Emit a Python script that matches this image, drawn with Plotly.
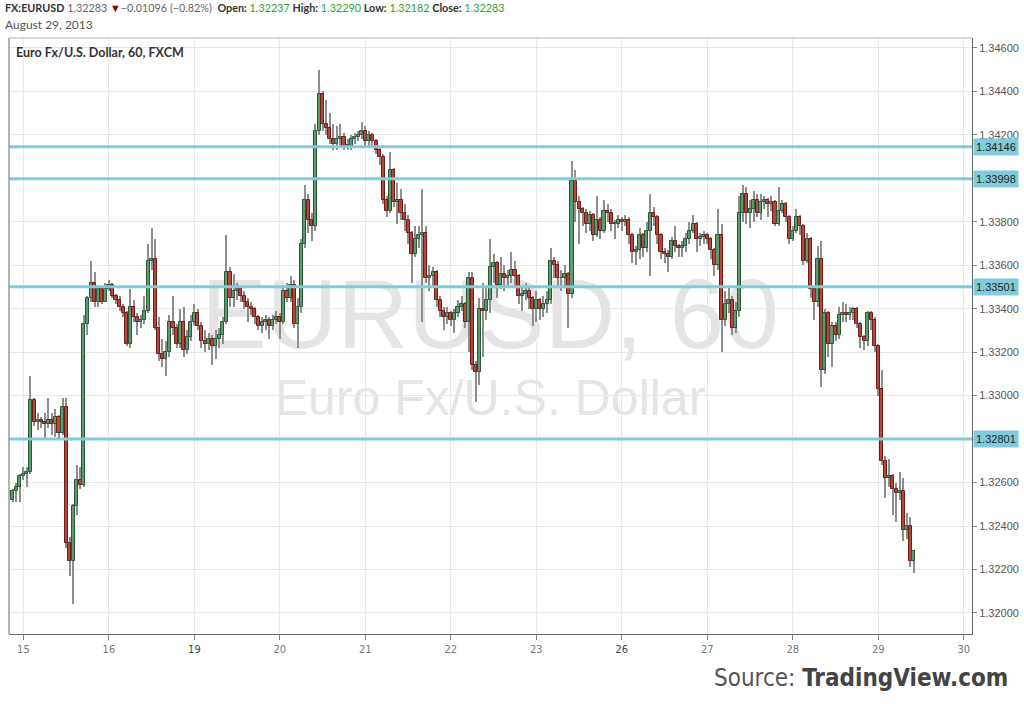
import plotly.graph_objects as go

# ---------------- data ----------------
SYMBOL = "FX:EURUSD"
LAST = "1.32283"
CHANGE = "\u22120.01096"
CHANGE_PCT = "(\u22120.82%)"
HDR_OPEN, HDR_HIGH, HDR_LOW, HDR_CLOSE = "1.32237", "1.32290", "1.32182", "1.32283"
DATE_TEXT = "August 29, 2013"
CHART_TITLE = "Euro Fx/U.S. Dollar, 60, FXCM"
WATERMARK_1 = "EURUSD, 60"
WATERMARK_2 = "Euro Fx/U.S. Dollar"

day_labels = ["15", "16", "19", "20", "21", "22", "23", "26", "27", "28", "29", "30"]
week_start_labels = ["19", "26"]
BARS_BEFORE_FIRST_DAY = 3
BARS_PER_DAY = 24

price_ticks = [1.320, 1.322, 1.324, 1.326, 1.328, 1.330, 1.332, 1.334,
               1.336, 1.338, 1.340, 1.342, 1.344, 1.346]
levels = [1.34146, 1.33998, 1.33501, 1.32801]
level_labels = ["1.34146", "1.33998", "1.33501", "1.32801"]

FIRST_OPEN = 1.3252
closes = [
    1.3256, 1.3258, 1.3263, 1.3264, 1.3265, 1.3298, 1.3288, 1.3289, 1.3288, 1.3287,
    1.3289, 1.3287, 1.3290, 1.3283, 1.3295, 1.3232, 1.3224, 1.3249, 1.3261, 1.3259,
    1.3333, 1.3345, 1.3352, 1.3343, 1.3349, 1.3343, 1.3349, 1.3351, 1.3346, 1.3344,
    1.3341, 1.3338, 1.3324, 1.3341, 1.3336, 1.3334, 1.3335, 1.3339, 1.3362, 1.3363,
    1.3331, 1.3319, 1.3317, 1.3320, 1.3334, 1.3331, 1.3324, 1.3334, 1.3321, 1.3327,
    1.3334, 1.3338, 1.3332, 1.3325, 1.3324, 1.3326, 1.3323, 1.3326, 1.3328, 1.3334,
    1.3357, 1.3345, 1.3348, 1.3349, 1.3346, 1.3343, 1.3341, 1.3340, 1.3336, 1.3332,
    1.3334, 1.3335, 1.3332, 1.3335, 1.3336, 1.3334, 1.3348, 1.3345, 1.3351, 1.3333,
    1.3341, 1.3370, 1.3390, 1.3381, 1.3378, 1.3422, 1.3439, 1.3425, 1.3423, 1.3418,
    1.3416, 1.3418, 1.3419, 1.3415, 1.3415, 1.3418, 1.3419, 1.3420, 1.3422, 1.3417,
    1.3420, 1.3417, 1.3413, 1.3410, 1.3390, 1.3385, 1.3404, 1.3389, 1.3390, 1.3384,
    1.3381, 1.3375, 1.3365, 1.3372, 1.3374, 1.3375, 1.3354, 1.3355, 1.3357, 1.3344,
    1.3339, 1.3336, 1.3338, 1.3335, 1.3338, 1.3341, 1.3342, 1.3334, 1.3354, 1.3314,
    1.3311, 1.3340, 1.3339, 1.3344, 1.3359, 1.3361, 1.3351, 1.3356, 1.3354, 1.3355,
    1.3358, 1.3355, 1.3346, 1.3347, 1.3348, 1.3345, 1.3340, 1.3344, 1.3340, 1.3342,
    1.3344, 1.3362, 1.3360, 1.3354, 1.3354, 1.3356, 1.3347, 1.3399, 1.3389, 1.3386,
    1.3384, 1.3379, 1.3383, 1.3374, 1.3381, 1.3376, 1.3385, 1.3384, 1.3379, 1.3379,
    1.3381, 1.3380, 1.3381, 1.3374, 1.3366, 1.3367, 1.3374, 1.3368, 1.3376, 1.3384,
    1.3382, 1.3374, 1.3366, 1.3365, 1.3364, 1.3371, 1.3369, 1.3368, 1.3369, 1.3372,
    1.3376, 1.3379, 1.3372, 1.3373, 1.3374, 1.3372, 1.3367, 1.3360, 1.3374, 1.3335,
    1.3342, 1.3344, 1.3331, 1.3339, 1.3384, 1.3393, 1.3384, 1.3386, 1.3390, 1.3384,
    1.3389, 1.3390, 1.3388, 1.3389, 1.3379, 1.3385, 1.3388, 1.3382, 1.3372, 1.3376,
    1.3382, 1.3378, 1.3362, 1.3372, 1.3349, 1.3343, 1.3363, 1.3312, 1.3338, 1.3324,
    1.3332, 1.3328, 1.3337, 1.3338, 1.3337, 1.3338, 1.3340, 1.3333, 1.3327, 1.3325,
    1.3338, 1.3335, 1.3323, 1.3303, 1.3270, 1.3262, 1.3263, 1.3257, 1.3255, 1.3256,
    1.3238, 1.3240, 1.3224, 1.32283,
]
highs = [
    1.3257, 1.3260, 1.3264, 1.3267, 1.3267, 1.3309, 1.3299, 1.3292, 1.3290, 1.3292,
    1.3299, 1.3292, 1.3294, 1.3291, 1.3299, 1.3299, 1.3235, 1.3250, 1.3268, 1.3267,
    1.3337, 1.3346, 1.3362, 1.3357, 1.3351, 1.3350, 1.3352, 1.3353, 1.3352, 1.3347,
    1.3346, 1.3342, 1.3339, 1.3349, 1.3344, 1.3338, 1.3337, 1.3346, 1.3370, 1.3377,
    1.3372, 1.3336, 1.3326, 1.3325, 1.3337, 1.3346, 1.3333, 1.3340, 1.3341, 1.3330,
    1.3337, 1.3342, 1.3340, 1.3334, 1.3330, 1.3329, 1.3328, 1.3330, 1.3331, 1.3336,
    1.3374, 1.3359, 1.3356, 1.3352, 1.3350, 1.3348, 1.3345, 1.3343, 1.3341, 1.3337,
    1.3336, 1.3337, 1.3336, 1.3337, 1.3339, 1.3338, 1.3351, 1.3352, 1.3355, 1.3353,
    1.3345, 1.3372, 1.3397, 1.3393, 1.3384, 1.3425, 1.3450, 1.3440, 1.3436, 1.3430,
    1.3425, 1.3424, 1.3425, 1.3421, 1.3418, 1.3420, 1.3421, 1.3422, 1.3426, 1.3424,
    1.3422, 1.3421, 1.3418, 1.3415, 1.3411, 1.3392, 1.3412, 1.3405, 1.3398, 1.3395,
    1.3388, 1.3383, 1.3376, 1.3378, 1.3378, 1.3395, 1.3378, 1.3360, 1.3359, 1.3358,
    1.3346, 1.3341, 1.3341, 1.3339, 1.3340, 1.3344, 1.3346, 1.3343, 1.3357, 1.3357,
    1.3316, 1.3345, 1.3352, 1.3350, 1.3372, 1.3365, 1.3362, 1.3364, 1.3360, 1.3358,
    1.3366, 1.3362, 1.3356, 1.3350, 1.3352, 1.3350, 1.3346, 1.3348, 1.3345, 1.3346,
    1.3348, 1.3368, 1.3364, 1.3362, 1.3358, 1.3360, 1.3357, 1.3408, 1.3404, 1.3392,
    1.3387, 1.3386, 1.3385, 1.3384, 1.3392, 1.3382, 1.3390, 1.3388, 1.3386, 1.3381,
    1.3383, 1.3382, 1.3383, 1.3382, 1.3375, 1.3369, 1.3377, 1.3375, 1.3380, 1.3393,
    1.3387, 1.3383, 1.3375, 1.3368, 1.3367, 1.3373, 1.3378, 1.3370, 1.3371, 1.3375,
    1.3380, 1.3383, 1.3380, 1.3375, 1.3376, 1.3375, 1.3373, 1.3368, 1.3386, 1.3379,
    1.3348, 1.3350, 1.3346, 1.3343, 1.3392, 1.3397, 1.3396, 1.3390, 1.3394, 1.3393,
    1.3393, 1.3392, 1.3391, 1.3392, 1.3390, 1.3396, 1.3390, 1.3389, 1.3383, 1.3378,
    1.3386, 1.3383, 1.3379, 1.3375, 1.3373, 1.3350, 1.3369, 1.3371, 1.3340, 1.3339,
    1.3334, 1.3334, 1.3341, 1.3343, 1.3342, 1.3341, 1.3341, 1.3341, 1.3334, 1.3328,
    1.3339, 1.3339, 1.3336, 1.3324, 1.3312, 1.3272, 1.3271, 1.3264, 1.3260, 1.3265,
    1.3262, 1.3246, 1.3244, 1.32290,
]
lows = [
    1.3251, 1.3251, 1.3251, 1.3261, 1.3258, 1.3264, 1.3286, 1.3284, 1.3285, 1.3280,
    1.3285, 1.3282, 1.3281, 1.3280, 1.3282, 1.3230, 1.3217, 1.3204, 1.3245, 1.3257,
    1.3258, 1.3328, 1.3343, 1.3341, 1.3341, 1.3342, 1.3343, 1.3348, 1.3345, 1.3342,
    1.3339, 1.3336, 1.3323, 1.3322, 1.3334, 1.3328, 1.3331, 1.3333, 1.3338, 1.3358,
    1.3330, 1.3316, 1.3313, 1.3309, 1.3318, 1.3328, 1.3322, 1.3322, 1.3318, 1.3319,
    1.3325, 1.3332, 1.3330, 1.3322, 1.3320, 1.3321, 1.3314, 1.3317, 1.3322, 1.3324,
    1.3333, 1.3341, 1.3341, 1.3344, 1.3343, 1.3340, 1.3334, 1.3337, 1.3333, 1.3330,
    1.3329, 1.3330, 1.3326, 1.3330, 1.3333, 1.3326, 1.3333, 1.3343, 1.3343, 1.3331,
    1.3322, 1.3338, 1.3368, 1.3375, 1.3371, 1.3376, 1.3420, 1.3422, 1.3420, 1.3416,
    1.3413, 1.3413, 1.3414, 1.3413, 1.3413, 1.3413, 1.3416, 1.3417, 1.3418, 1.3415,
    1.3415, 1.3415, 1.3411, 1.3406, 1.3388, 1.3382, 1.3384, 1.3387, 1.3379, 1.3381,
    1.3376, 1.3370, 1.3352, 1.3364, 1.3368, 1.3334, 1.3352, 1.3348, 1.3350, 1.3341,
    1.3336, 1.3330, 1.3333, 1.3332, 1.3329, 1.3336, 1.3339, 1.3331, 1.3320, 1.3312,
    1.3297, 1.3305, 1.3318, 1.3335, 1.3338, 1.3352, 1.3345, 1.3349, 1.3348, 1.3350,
    1.3352, 1.3350, 1.3342, 1.3339, 1.3344, 1.3340, 1.3332, 1.3334, 1.3335, 1.3336,
    1.3338, 1.3342, 1.3354, 1.3350, 1.3348, 1.3350, 1.3331, 1.3345, 1.3380, 1.3370,
    1.3378, 1.3375, 1.3376, 1.3371, 1.3373, 1.3372, 1.3375, 1.3380, 1.3376, 1.3372,
    1.3377, 1.3376, 1.3378, 1.3370, 1.3361, 1.3360, 1.3363, 1.3364, 1.3366, 1.3355,
    1.3378, 1.3370, 1.3363, 1.3361, 1.3357, 1.3363, 1.3366, 1.3364, 1.3364, 1.3366,
    1.3370, 1.3375, 1.3366, 1.3369, 1.3370, 1.3370, 1.3363, 1.3355, 1.3358, 1.3320,
    1.3332, 1.3338, 1.3328, 1.3329, 1.3336, 1.3380, 1.3379, 1.3377, 1.3380, 1.3382,
    1.3381, 1.3386, 1.3382, 1.3385, 1.3378, 1.3378, 1.3384, 1.3380, 1.3370, 1.3371,
    1.3375, 1.3374, 1.3360, 1.3361, 1.3345, 1.3335, 1.3341, 1.3304, 1.3310, 1.3318,
    1.3313, 1.3325, 1.3326, 1.3334, 1.3334, 1.3335, 1.3335, 1.3331, 1.3322, 1.3321,
    1.3323, 1.3330, 1.3320, 1.3300, 1.3268, 1.3253, 1.3258, 1.3245, 1.3242, 1.3252,
    1.3233, 1.3234, 1.3221, 1.32182,
]

# ---------------- derived ----------------
n = len(closes)
opens = [FIRST_OPEN] + closes[:-1]
opens[-1] = float(HDR_OPEN)
bars = list(range(n))
up = [c >= o for o, c in zip(opens, closes)]
hi = [max(h, o, c) for h, o, c in zip(highs, opens, closes)]
lo = [min(l, o, c) for l, o, c in zip(lows, opens, closes)]
body_base = [min(o, c) for o, c in zip(opens, closes)]
body_h = [max(abs(c - o), 0.000025) for o, c in zip(opens, closes)]

# price tick labels: the ones sitting under a level marker are covered in the original
covered = [t for t in price_ticks if any(abs(t - lv) < 0.0003 for lv in levels)]
price_ticktext = ["" if t in covered else f"{t:.5f}" for t in price_ticks]

UP_FILL, UP_LINE = "#5b9b6f", "#2a5737"
DN_FILL, DN_LINE = "#b8453b", "#6b1f18"
WICK = "#8e8e8e"
CYAN = "#80ccdc"

# page geometry (body margin is removed by the post script, so figure == window)
W, H = 1024, 704
PLOT_L, PLOT_R, PLOT_T, PLOT_B = 9, 972, 38, 634      # plot box in window pixels
ML, MT = PLOT_L, PLOT_T
MR, MB = W - PLOT_R, H - PLOT_B
PW, PH = PLOT_R - PLOT_L, PLOT_B - PLOT_T


def px_x(x):
    return (x - PLOT_L) / PW


def px_y(y):
    return (PLOT_B - y) / PH


tick_pos = [BARS_BEFORE_FIRST_DAY + BARS_PER_DAY * k for k in range(len(day_labels))]
tick_txt = [
    (f'<span style="color:#444">{d}</span>' if d in week_start_labels else d)
    for d in day_labels
]

fig = go.Figure()
fig.add_trace(go.Bar(
    x=bars, y=[h - l for h, l in zip(hi, lo)], base=lo, width=0.3,
    marker=dict(color=WICK, line=dict(width=0)), hoverinfo="skip", showlegend=False,
))
fig.add_trace(go.Bar(
    x=bars, y=body_h, base=body_base, width=0.86,
    marker=dict(
        color=[UP_FILL if u else DN_FILL for u in up],
        line=dict(color=[UP_LINE if u else DN_LINE for u in up], width=1),
    ),
    hoverinfo="skip", showlegend=False,
))

shapes = []
# watermark (drawn between grid and candles)
shapes.append(dict(
    type="rect", xref="paper", yref="paper",
    x0=px_x(150), x1=px_x(830), y0=px_y(360), y1=px_y(250),
    line=dict(width=0), fillcolor="rgba(0,0,0,0)", layer="between",
    label=dict(text=WATERMARK_1, textposition="middle center",
               font=dict(size=98, color="#e4e4e4", family="Liberation Sans, Arial")),
))
shapes.append(dict(
    type="rect", xref="paper", yref="paper",
    x0=px_x(200), x1=px_x(780), y0=px_y(420), y1=px_y(365),
    line=dict(width=0), fillcolor="rgba(0,0,0,0)", layer="between",
    label=dict(text=WATERMARK_2, textposition="middle center",
               font=dict(size=50, color="#e4e4e4", family="Liberation Sans, Arial")),
))
for lv in levels:
    shapes.append(dict(type="line", xref="paper", yref="y", x0=0, x1=1, y0=lv, y1=lv,
                       line=dict(color=CYAN, width=3), layer="above"))
# left and top frame
shapes.append(dict(type="line", xref="paper", yref="paper", x0=0, x1=0, y0=0, y1=1,
                   line=dict(color="#9a9a9a", width=1.5), layer="above"))
shapes.append(dict(type="line", xref="paper", yref="paper", x0=0, x1=1, y0=1, y1=1,
                   line=dict(color="#b0b0b0", width=1), layer="above"))

annotations = []
for lv, txt in zip(levels, level_labels):
    annotations.append(dict(
        xref="paper", yref="y", x=1, y=lv, xanchor="left", yanchor="middle",
        xshift=1, text=txt, showarrow=False, bgcolor=CYAN, borderpad=2,
        font=dict(size=11, color="#222", family="Liberation Sans, Arial"),
    ))

hdr_font = "Lato, Open Sans, sans-serif"
green = "#2fa52f"
header = (
    f'<b>{SYMBOL}</b> <span style="color:#666">{LAST}</span> '
    f'<span style="color:#8b0000">\u25bc</span>'
    f'<span style="color:#666">{CHANGE} {CHANGE_PCT}</span>  '
    f'<b>Open:</b> <span style="color:{green}">{HDR_OPEN}</span> '
    f'<b>High:</b> <span style="color:{green}">{HDR_HIGH}</span> '
    f'<b>Low:</b> <span style="color:{green}">{HDR_LOW}</span> '
    f'<b>Close:</b> <span style="color:{green}">{HDR_CLOSE}</span>'
)
annotations.append(dict(xref="paper", yref="paper", x=px_x(3), y=px_y(8),
                        xanchor="left", yanchor="middle", showarrow=False, text=header,
                        font=dict(size=10.8, color="#333", family=hdr_font)))
annotations.append(dict(xref="paper", yref="paper", x=px_x(3), y=px_y(24),
                        xanchor="left", yanchor="middle", showarrow=False, text=DATE_TEXT,
                        font=dict(size=12, color="#555", family=hdr_font)))
annotations.append(dict(xref="paper", yref="paper", x=px_x(14), y=px_y(52),
                        xanchor="left", yanchor="middle", showarrow=False,
                        text=f"<b>{CHART_TITLE}</b>",
                        font=dict(size=12.5, color="#333", family=hdr_font)))
annotations.append(dict(xref="paper", yref="paper", x=px_x(1010), y=px_y(678),
                        xanchor="right", yanchor="middle", showarrow=False,
                        text='<span style="color:#555">Source:</span> <b>TradingView.com</b>',
                        font=dict(size=24, color="#444",
                                  family="Liberation Sans Narrow, DejaVu Sans Condensed, Lato")))

fig.update_layout(
    width=W, height=H,
    margin=dict(l=ML, r=MR, t=MT, b=MB, autoexpand=False),
    paper_bgcolor="white", plot_bgcolor="white",
    barmode="overlay", bargap=0, showlegend=False,
    shapes=shapes, annotations=annotations,
    xaxis=dict(
        range=[-1.04, 269.3], tickmode="array", tickvals=tick_pos, ticktext=tick_txt,
        showgrid=True, gridcolor="#e8e8e8", gridwidth=1, zeroline=False,
        showline=True, linecolor="#666", linewidth=1,
        ticks="outside", ticklen=5, tickcolor="#888",
        tickfont=dict(size=11, color="#777",
                      family="Liberation Sans Narrow, DejaVu Sans Condensed, Lato"),
        fixedrange=True,
    ),
    yaxis=dict(
        range=[1.31903, 1.34646], side="right",
        tickmode="array", tickvals=price_ticks, ticktext=price_ticktext,
        showgrid=True, gridcolor="#e8e8e8", gridwidth=1,
        zeroline=False, showline=True, linecolor="#666", linewidth=1,
        ticks="outside", ticklen=4, tickcolor="#888",
        tickfont=dict(size=11, color="#555", family="Liberation Sans, Arial"),
        fixedrange=True,
    ),
)

fig.write_html(
    "out.html",
    config={"displayModeBar": False},
    post_script="document.body.style.margin='0';document.body.style.overflow='hidden';",
)
